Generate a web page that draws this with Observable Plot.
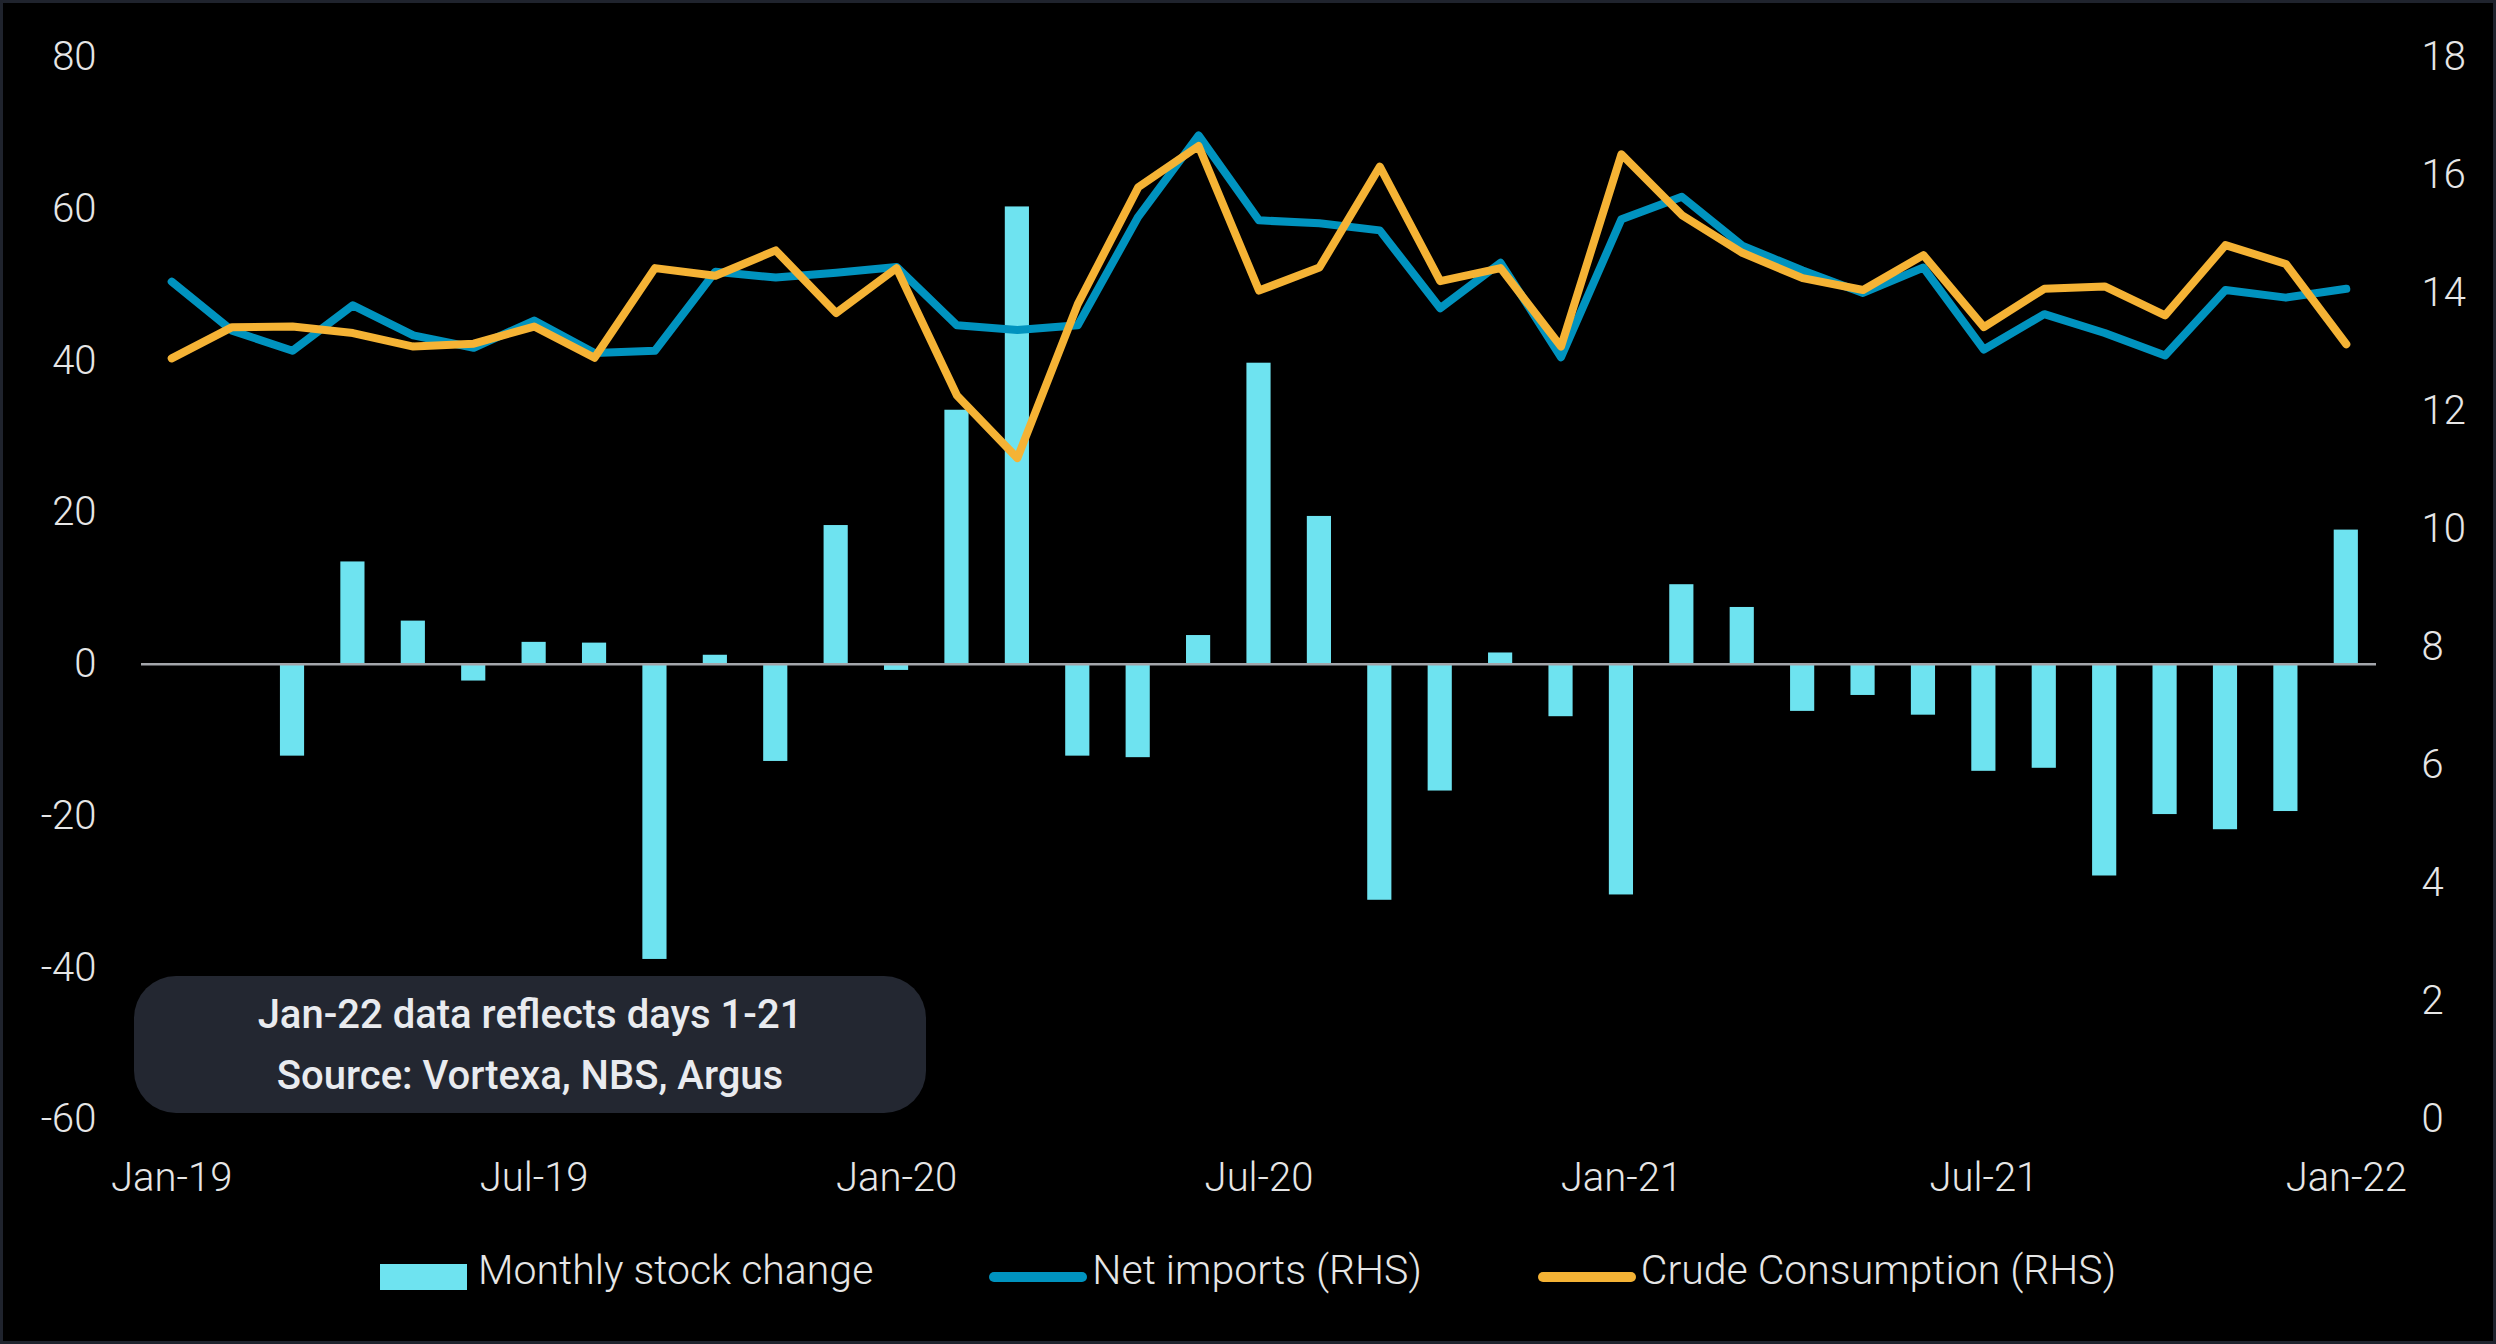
<!DOCTYPE html>
<html>
<head>
<meta charset="utf-8">
<script src="https://cdn.jsdelivr.net/npm/d3@7"></script>
<script src="https://cdn.jsdelivr.net/npm/@observablehq/plot@0.6"></script>
<style>
  html, body { margin: 0; padding: 0; background: #000; }
  #wrap { position: relative; width: 2496px; height: 1344px; background: #000; overflow: hidden; font-family: Roboto, "Noto Sans", sans-serif; }
  #wrap svg { position: absolute; left: 0; top: 0; }
  #frame { position: absolute; inset: 0; border: 3px solid #1f232d; box-sizing: border-box; pointer-events: none; }
  #note { position: absolute; left: 134px; top: 976px; width: 792px; height: 137px; border-radius: 42px; background: #232731; color: #e9ebef; font-weight: 500; font-size: 40px; line-height: 61px; display: flex; flex-direction: column; justify-content: center; align-items: center; }
  #legend { position: absolute; left: 0; top: 1243px; width: 2496px; height: 54px; display: flex; justify-content: center; align-items: center; color: #e6e6e6; font-size: 41px; font-weight: 300; }
  .item { display: flex; align-items: center; }
  .sw-bar { width: 87px; height: 26px; background: #6ee3f0; margin-right: 11px; margin-top: 14px; }
  .sw-line { width: 98px; height: 10px; border-radius: 5px; margin-right: 5px; margin-top: 14px; }
  .gap { width: 116px; }
</style>
</head>
<body>
<div id="wrap">
  <div id="chart"></div>
  <div id="note"><div>Jan-22 data reflects days 1-21</div><div>Source: Vortexa, NBS, Argus</div></div>
  <div id="legend"></div>
  <div id="frame"></div>
</div>
<script>
const months = ["Jan-19","Feb-19","Mar-19","Apr-19","May-19","Jun-19","Jul-19","Aug-19","Sep-19","Oct-19","Nov-19","Dec-19",
  "Jan-20","Feb-20","Mar-20","Apr-20","May-20","Jun-20","Jul-20","Aug-20","Sep-20","Oct-20","Nov-20","Dec-20",
  "Jan-21","Feb-21","Mar-21","Apr-21","May-21","Jun-21","Jul-21","Aug-21","Sep-21","Oct-21","Nov-21","Dec-21","Jan-22"];
const stockChange = [null, null, -12.1, 13.5, 5.7, -2.2, 2.9, 2.8, -38.9, 1.2, -12.8, 18.3,
  -0.8, 33.5, 60.3, -12.1, -12.3, 3.8, 39.7, 19.5, -31.1, -16.7, 1.5, -6.9,
  -30.4, 10.5, 7.5, -6.2, -4.1, -6.7, -14.1, -13.7, -27.9, -19.8, -21.8, -19.4, 17.7];
const netImports = [14.2, 13.37, 13.03, 13.8, 13.29, 13.08, 13.54, 12.99, 13.03, 14.37, 14.27, 14.35,
  14.45, 13.46, 13.38, 13.46, 15.30, 16.68, 15.24, 15.19, 15.07, 13.75, 14.52, 12.92,
  15.26, 15.64, 14.81, 14.39, 14.01, 14.44, 13.05, 13.65, 13.33, 12.95, 14.06, 13.93, 14.08];
const crudeConsumption = [12.9, 13.43, 13.44, 13.33, 13.10, 13.15, 13.44, 12.91, 14.43, 14.30, 14.73, 13.67,
  14.43, 12.27, 11.21, 13.82, 15.80, 16.5, 14.05, 14.44, 16.15, 14.21, 14.43, 13.10,
  16.36, 15.33, 14.69, 14.26, 14.06, 14.65, 13.43, 14.08, 14.12, 13.63, 14.82, 14.50, 13.14];
const xTicks = ["Jan-19","Jul-19","Jan-20","Jul-20","Jan-21","Jul-21","Jan-22"];
const leftTicks = [-60, -40, -20, 0, 20, 40, 60, 80];
const rightTicks = [0, 2, 4, 6, 8, 10, 12, 14, 16, 18];
const seriesNames = ["Monthly stock change", "Net imports (RHS)", "Crude Consumption (RHS)"];
const colors = ["#6ee3f0", "#0093bf", "#f5b335"];

const leftDomain = [-60, 80];
const rightDomain = [0, 18];
const toLeft = v => leftDomain[0] + (v - rightDomain[0]) * (leftDomain[1] - leftDomain[0]) / (rightDomain[1] - rightDomain[0]);
const toRight = v => rightDomain[0] + (v - leftDomain[0]) * (rightDomain[1] - rightDomain[0]) / (leftDomain[1] - leftDomain[0]);

const table = months.map((m, i) => ({month: m, stock: stockChange[i], net: netImports[i], crude: crudeConsumption[i]}));

const chart = Plot.plot({
  width: 2496,
  height: 1230,
  marginTop: 57,
  marginBottom: 111,
  marginLeft: 141,
  marginRight: 120,
  style: {background: "transparent", color: "#e6e6e6", fontFamily: "Roboto, 'Noto Sans', sans-serif", fontSize: "40px", fontWeight: 300, overflow: "visible"},
  x: {type: "band", domain: months, paddingInner: 0.6, paddingOuter: 0.3, round: false},
  y: {domain: leftDomain},
  marks: [
    Plot.barY(table.filter(d => d.stock != null), {x: "month", y: "stock", fill: colors[0]}),
    Plot.ruleY([0], {stroke: "#a3a6ab", strokeWidth: 2.5}),
    Plot.lineY(table, {x: "month", y: d => toLeft(d.net), stroke: colors[1], strokeWidth: 8, strokeLinejoin: "round", strokeLinecap: "round"}),
    Plot.lineY(table, {x: "month", y: d => toLeft(d.crude), stroke: colors[2], strokeWidth: 8, strokeLinejoin: "round", strokeLinecap: "round"}),
    Plot.axisX(xTicks, {anchor: "bottom", tickSize: 0, tickPadding: 43, label: null}),
    Plot.axisY(leftTicks, {anchor: "left", tickSize: 0, tickPadding: 45, label: null, tickFormat: d => String(d)}),
    Plot.axisY(rightTicks.map(toLeft), {anchor: "right", tickSize: 0, tickPadding: 45, label: null, tickFormat: d => String(Math.round(toRight(d)))})
  ]
});
document.getElementById("chart").appendChild(chart);

const legend = document.getElementById("legend");
seriesNames.forEach((name, i) => {
  if (i > 0) { const g = document.createElement("div"); g.className = "gap"; legend.appendChild(g); }
  const item = document.createElement("div");
  item.className = "item";
  const sw = document.createElement("div");
  sw.className = i === 0 ? "sw-bar" : "sw-line";
  sw.style.background = colors[i];
  const label = document.createElement("span");
  label.textContent = name;
  item.appendChild(sw);
  item.appendChild(label);
  legend.appendChild(item);
});
</script>
</body>
</html>
